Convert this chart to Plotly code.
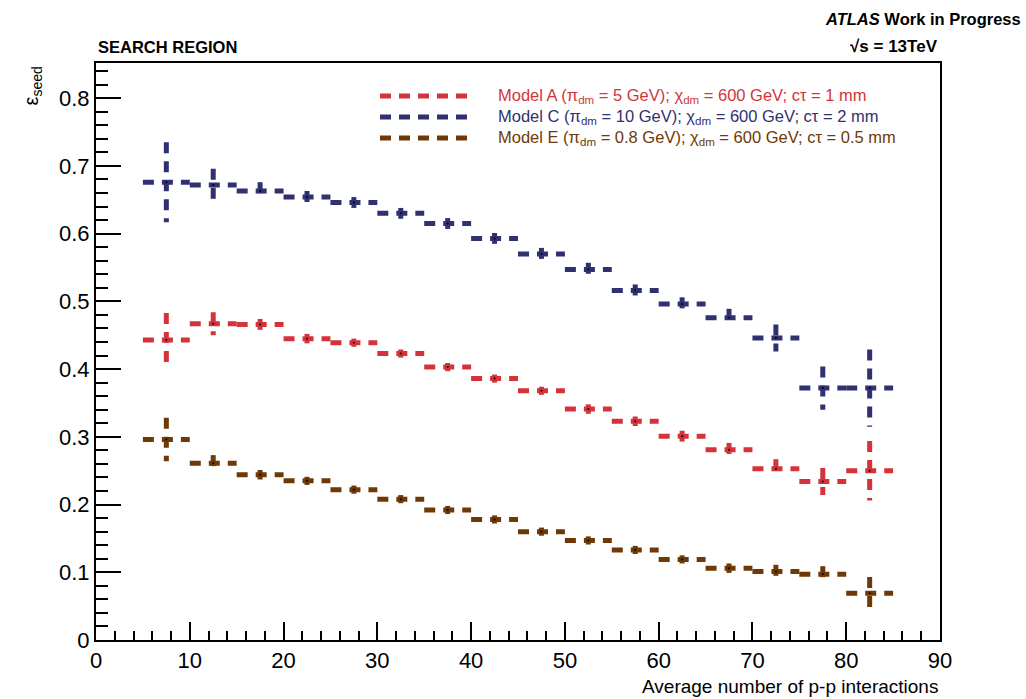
import plotly.graph_objects as go

# ---------------- data ----------------
bin_edges = [5, 10, 15, 20, 25, 30, 35, 40, 45, 50, 55, 60, 65, 70, 75, 80, 85]

model_a = [0.443, 0.467, 0.466, 0.445, 0.439, 0.423, 0.403, 0.386,
           0.368, 0.341, 0.323, 0.301, 0.281, 0.253, 0.234, 0.250]
model_a_err = [0.040, 0.017, 0.008, 0.007, 0.006, 0.006, 0.006, 0.006,
               0.006, 0.007, 0.007, 0.008, 0.010, 0.014, 0.020, 0.044]

model_c = [0.676, 0.672, 0.663, 0.654, 0.646, 0.630, 0.615, 0.593,
           0.570, 0.547, 0.516, 0.496, 0.476, 0.446, 0.372, 0.372]
model_c_err = [0.059, 0.024, 0.013, 0.009, 0.008, 0.008, 0.008, 0.008,
               0.009, 0.010, 0.009, 0.010, 0.013, 0.020, 0.032, 0.057]

model_e = [0.296, 0.261, 0.244, 0.235, 0.222, 0.208, 0.192, 0.178,
           0.160, 0.147, 0.133, 0.119, 0.106, 0.101, 0.097, 0.069]
model_e_err = [0.032, 0.012, 0.007, 0.006, 0.006, 0.006, 0.006, 0.006,
               0.006, 0.006, 0.006, 0.006, 0.007, 0.010, 0.012, 0.024]

labels = [
    "Model A (π<sub>dm</sub> = 5 GeV); χ<sub>dm</sub> = 600 GeV; cτ = 1 mm",
    "Model C (π<sub>dm</sub> = 10 GeV); χ<sub>dm</sub> = 600 GeV; cτ = 2 mm",
    "Model E (π<sub>dm</sub> = 0.8 GeV); χ<sub>dm</sub> = 600 GeV; cτ = 0.5 mm",
]
colors = ["#d5333b", "#2f3170", "#6e3906"]

x_ticks = [0, 10, 20, 30, 40, 50, 60, 70, 80, 90]
y_ticks = [0, 0.1, 0.2, 0.3, 0.4, 0.5, 0.6, 0.7, 0.8]

# ---------------- figure ----------------
DASH = "11px,8px"
LW = 5

fig = go.Figure()


def add_series(vals, errs, color):
    # horizontal bin-width bars
    hx, hy = [], []
    for i, v in enumerate(vals):
        hx += [bin_edges[i], bin_edges[i + 1], None]
        hy += [v, v, None]
    fig.add_trace(go.Scatter(x=hx, y=hy, mode="lines",
                             line=dict(color=color, width=LW, dash=DASH),
                             showlegend=False, hoverinfo="skip"))
    # vertical error bars
    ex, ey, cx = [], [], []
    for i, (v, e) in enumerate(zip(vals, errs)):
        c = 0.5 * (bin_edges[i] + bin_edges[i + 1])
        cx.append(c)
        ex += [c, c, None]
        ey += [v + e, v - e, None]
    fig.add_trace(go.Scatter(x=ex, y=ey, mode="lines",
                             line=dict(color=color, width=LW, dash=DASH),
                             showlegend=False, hoverinfo="skip"))
    fig.add_trace(go.Scatter(x=cx, y=vals, mode="markers",
                             marker=dict(color="black", size=2),
                             showlegend=False, hoverinfo="skip"))


add_series(model_c, model_c_err, colors[1])
add_series(model_a, model_a_err, colors[0])
add_series(model_e, model_e_err, colors[2])

FONT = "Liberation Sans, Arial, Helvetica, sans-serif"

fig.update_layout(
    width=1026, height=699,
    margin=dict(l=96, r=86, t=63, b=59),
    paper_bgcolor="white", plot_bgcolor="white",
    font=dict(family=FONT, color="black"),
    showlegend=False,
)

fig.update_xaxes(
    range=[0, 90], tickvals=x_ticks, ticks="inside", ticklen=18, tickwidth=2,
    tickcolor="black", showgrid=False, zeroline=False,
    showline=True, linecolor="black", linewidth=2, mirror=True,
    tickfont=dict(size=22, family=FONT),
    minor=dict(dtick=2, ticks="inside", ticklen=9, tickwidth=2, tickcolor="black", showgrid=False),
)
fig.update_yaxes(
    range=[0, 0.852], tickvals=y_ticks, ticks="inside", ticklen=25, tickwidth=2,
    tickcolor="black", showgrid=False, zeroline=False,
    showline=True, linecolor="black", linewidth=2, mirror=True,
    tickfont=dict(size=22, family=FONT),
    minor=dict(dtick=0.02, ticks="inside", ticklen=12, tickwidth=2, tickcolor="black", showgrid=False),
)

# manual legend
leg_rows = [0.9428, 0.9064, 0.8700]
for lab, col, yr in zip(labels, colors, leg_rows):
    fig.add_shape(type="line", xref="paper", yref="paper",
                  x0=0.3365, x1=0.4431, y0=yr, y1=yr,
                  line=dict(color=col, width=LW, dash=DASH))
    fig.add_annotation(xref="paper", yref="paper", x=0.4740, y=yr,
                       xanchor="left", yanchor="middle", text=lab,
                       showarrow=False, font=dict(size=16.5, color=col, family=FONT))

# texts
fig.add_annotation(xref="paper", yref="paper", x=0.0, y=1.0, yshift=5,
                   xanchor="left", yanchor="bottom", text="<b>SEARCH REGION</b>",
                   showarrow=False, font=dict(size=16.5, color="black", family=FONT))
fig.add_annotation(xref="paper", yref="paper", x=1.0, y=1.0, yshift=5,
                   xanchor="right", yanchor="bottom", text="<b>√s = 13TeV</b>",
                   showarrow=False, font=dict(size=17, color="black", family=FONT))
fig.add_annotation(xref="paper", yref="paper", x=1.0, y=1.0, yshift=33, xshift=83,
                   xanchor="right", yanchor="bottom",
                   text="<b><i>ATLAS</i> Work in Progress</b>",
                   showarrow=False, font=dict(size=16.5, color="black", family=FONT))
fig.add_annotation(xref="paper", yref="paper", x=1.0, y=0.0, yshift=-34,
                   xanchor="right", yanchor="top",
                   text="Average number of p-p interactions",
                   showarrow=False, font=dict(size=19, color="black", family=FONT))
fig.add_annotation(xref="paper", yref="paper", x=0.0, y=1.0, xshift=-64, yshift=-2,
                   xanchor="center", yanchor="top", textangle=-90,
                   text="ε<sub>seed</sub>",
                   showarrow=False, font=dict(size=20, color="black", family=FONT))

fig.write_html("out.html")
